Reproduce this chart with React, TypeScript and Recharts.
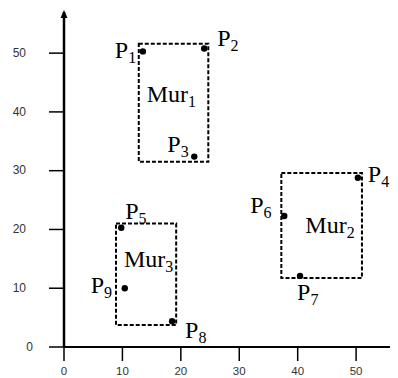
import React from 'react';
import {
  ScatterChart,
  Scatter,
  XAxis,
  YAxis,
  ReferenceArea,
  ReferenceDot,
} from 'recharts';

// Sensor points P1..P9
const pointIds = ['1', '2', '3', '4', '5', '6', '7', '8', '9'];
const pointX = [13.5, 24.0, 22.3, 50.3, 9.8, 37.7, 40.4, 18.5, 10.4];
const pointY = [50.3, 50.8, 32.4, 28.8, 20.3, 22.3, 12.1, 4.4, 10.0];

// Walls Mur1..Mur3 as rectangles
const wallIds = ['1', '2', '3'];
const wallX1 = [12.8, 37.2, 8.9];
const wallX2 = [24.7, 51.0, 19.2];
const wallYLow = [31.5, 11.75, 3.75];
const wallYHigh = [51.6, 29.6, 21.0];

const axisTicks = [0, 10, 20, 30, 40, 50];
const axisMax = 57;

const points = pointIds.map((id, i) => ({ id, x: pointX[i], y: pointY[i] }));

// where each point's name sits relative to its dot
const pointLabelOffset: Record<string, [number, number]> = {
  '1': [-28, 7],
  '2': [13, -2],
  '3': [-27, -5],
  '4': [10, 4],
  '5': [4, -9],
  '6': [-34, -3],
  '7': [-3, 24],
  '8': [13, 17],
  '9': [-34, 5],
};

// where each wall's name sits relative to the rectangle's top-left corner
const wallLabelOffset: Record<string, [number, number]> = {
  '1': [8, 58],
  '2': [24, 60],
  '3': [8, 43],
};

const SERIF = "'Liberation Serif', 'Times New Roman', serif";
const SANS = "'Liberation Sans', Arial, sans-serif";

function SubText({ x, y, base, sub }: { x: number; y: number; base: string; sub: string }) {
  return (
    <text x={x} y={y} fontFamily={SERIF} fontSize={24} fill="#000">
      {base}
      <tspan dy={5} fontSize={16}>
        {sub}
      </tspan>
    </text>
  );
}

function PointShape(props: any) {
  const { cx, cy, payload } = props;
  const [dx, dy] = pointLabelOffset[payload.id];
  return (
    <g>
      <circle cx={cx} cy={cy} r={3.2} fill="#000" />
      <SubText x={cx + dx} y={cy + dy} base="P" sub={payload.id} />
    </g>
  );
}

function YTick(props: any) {
  const { x, y, payload } = props;
  const shift = payload.value === 0 ? 7 : 0;
  return (
    <text
      x={x + shift}
      y={y}
      dy="0.3em"
      textAnchor="end"
      fontFamily={SANS}
      fontSize={12}
      fill="#333"
    >
      {payload.value}
    </text>
  );
}

function XTick(props: any) {
  const { x, y, payload } = props;
  return (
    <text
      x={x}
      y={y}
      dy="0.71em"
      textAnchor="middle"
      fontFamily={SANS}
      fontSize={11.5}
      fill="#333"
    >
      {payload.value}
    </text>
  );
}

export default function App() {
  return (
    <ScatterChart
      width={390}
      height={370}
      margin={{ top: 4, right: 1, left: 0, bottom: 0 }}
    >
      <XAxis
        type="number"
        dataKey="x"
        domain={[0, axisMax]}
        ticks={axisTicks}
        allowDataOverflow
        height={31}
        tickSize={14}
        tickMargin={6}
        axisLine={{ stroke: '#000', strokeWidth: 2 }}
        tickLine={{ stroke: '#000', strokeWidth: 1.5 }}
        tick={<XTick />}
      />
      <YAxis
        type="number"
        dataKey="y"
        domain={[0, axisMax]}
        ticks={axisTicks}
        allowDataOverflow
        width={56}
        tickSize={15}
        tickMargin={23}
        axisLine={{ stroke: '#000', strokeWidth: 2.5 }}
        tickLine={{ stroke: '#000', strokeWidth: 1.5 }}
        tick={<YTick />}
      />
      {wallIds.map((id, i) => (
        <ReferenceArea
          key={id}
          x1={wallX1[i]}
          x2={wallX2[i]}
          y1={wallYLow[i]}
          y2={wallYHigh[i]}
          fill="none"
          stroke="#000"
          strokeWidth={2}
          strokeDasharray="4 2"
          label={(p: any) => {
            const vb = p.viewBox;
            const [dx, dy] = wallLabelOffset[id];
            return <SubText x={vb.x + dx} y={vb.y + dy} base="Mur" sub={id} />;
          }}
        />
      ))}
      <Scatter
        data={points}
        isAnimationActive={false}
        shape={(p: any) => <PointShape {...p} />}
      />
      {/* axis arrowheads */}
      <ReferenceDot
        x={axisMax}
        y={0}
        ifOverflow="visible"
        shape={(p: any) => (
          <path
            d={`M${p.cx + 1},${p.cy} L${p.cx - 7},${p.cy - 3.5} L${p.cx - 7},${p.cy + 3.5} Z`}
            fill="#000"
          />
        )}
      />
      <ReferenceDot
        x={0}
        y={axisMax}
        ifOverflow="visible"
        shape={(p: any) => (
          <path
            d={`M${p.cx},${p.cy - 2} L${p.cx - 3.5},${p.cy + 6} L${p.cx + 3.5},${p.cy + 6} Z`}
            fill="#000"
          />
        )}
      />
    </ScatterChart>
  );
}
